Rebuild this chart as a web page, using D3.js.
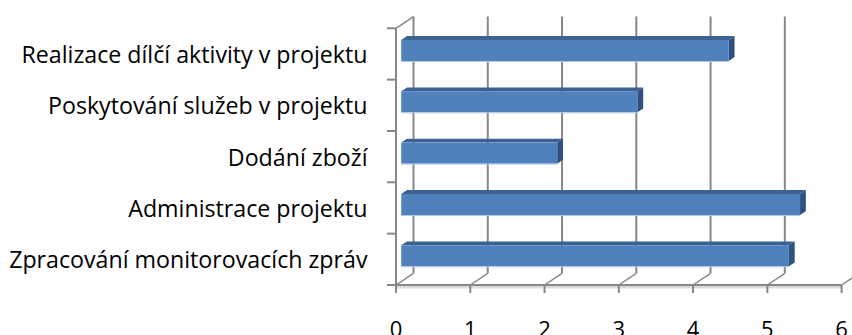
<!DOCTYPE html>
<html>
<head>
<meta charset="utf-8">
<script src="https://cdn.jsdelivr.net/npm/d3@7"></script>
<style>
  html, body { margin: 0; padding: 0; background: #fff; overflow: hidden; }
  svg { display: block; }
  .cat, .tick-label { font-family: "Open Sans", Lato, sans-serif; fill: #000; }
</style>
</head>
<body>
<svg id="chart" width="852" height="335"></svg>
<script>
// Activity categories, listed top to bottom
const categories = [
  "Realizace dílčí aktivity v projektu",
  "Poskytování služeb v projektu",
  "Dodání zboží",
  "Administrace projektu",
  "Zpracování monitorovacích zpráv"
];
// Average value for each activity
const values = [4.41, 3.18, 2.10, 5.37, 5.22];
// Value axis ticks
const xTicks = [0, 1, 2, 3, 4, 5, 6];

const svg = d3.select("#chart");

// Front plane of the 3-D box
const x = d3.scaleLinear().domain([0, 6]).range([396, 841.6]);
const y = d3.scaleBand().domain(categories).range([28.3, 285]).padding(0);
const bw = y.bandwidth();

// Oblique depth offset of the full box (back wall relative to front)
const DX = 17.5, DY = -11.7;
// Depth range occupied by the bars
const f1 = 0.30, f2 = 0.63;
const barH = bw * 0.41;

const gridColor = "#878787";
const yFloor = y.range()[1];
const yTop = y.range()[0];

// Floor thickness band
svg.append("rect")
  .attr("x", x(0)).attr("y", yFloor + 1)
  .attr("width", x(6) - x(0)).attr("height", 2.5)
  .attr("fill", "#dcdcdc");

// Back-wall gridlines
const grid = svg.append("g");
grid.selectAll("line.v")
  .data(xTicks.filter(d => x(d) + DX <= 852))
  .join("line")
  .attr("x1", d => x(d) + DX).attr("x2", d => x(d) + DX)
  .attr("y1", yTop + DY).attr("y2", yFloor + DY)
  .attr("stroke", gridColor).attr("stroke-width", 2);

// Floor diagonals from the front ticks to the back wall
grid.selectAll("line.d")
  .data(xTicks)
  .join("line")
  .attr("x1", d => x(d)).attr("y1", yFloor)
  .attr("x2", d => x(d) + DX).attr("y2", yFloor + DY)
  .attr("stroke", gridColor).attr("stroke-width", 1.5);

// Left wall: vertical edge and top diagonal
grid.append("line")
  .attr("x1", x(0)).attr("x2", x(0))
  .attr("y1", yTop).attr("y2", yFloor)
  .attr("stroke", gridColor).attr("stroke-width", 2);
grid.append("line")
  .attr("x1", x(0)).attr("y1", yTop)
  .attr("x2", x(0) + DX).attr("y2", yTop + DY)
  .attr("stroke", gridColor).attr("stroke-width", 1.5);

// Category tick marks on the left wall
const catBounds = categories.map(c => y(c)).concat([yFloor]);
grid.selectAll("line.ct")
  .data(catBounds)
  .join("line")
  .attr("x1", x(0) - 9).attr("x2", x(0))
  .attr("y1", d => d).attr("y2", d => d)
  .attr("stroke", gridColor).attr("stroke-width", 2);

// Bars drawn as oblique boxes
const bars = svg.append("g")
  .selectAll("g.bar")
  .data(categories.map((c, i) => ({ c, v: values[i] })))
  .join("g");

const ddx = DX * (f2 - f1), ddy = DY * (f2 - f1);

bars.each(function (d) {
  const g = d3.select(this);
  const x0 = x(0) + DX * f1;
  const x1 = x(d.v) + DX * f1;
  const yc = y(d.c) + bw / 2 + DY * f1;
  const yt = yc - barH / 2, yb = yc + barH / 2;

  // top face
  g.append("path")
    .attr("d", `M${x0},${yt}L${x1},${yt}L${x1 + ddx},${yt + ddy}L${x0 + ddx},${yt + ddy}Z`)
    .attr("fill", "#3b6292");
  // end face
  g.append("path")
    .attr("d", `M${x1},${yt}L${x1 + ddx},${yt + ddy}L${x1 + ddx},${yb + ddy}L${x1},${yb}Z`)
    .attr("fill", "#2f5180");
  // front face
  g.append("rect")
    .attr("x", x0).attr("y", yt)
    .attr("width", x1 - x0).attr("height", barH)
    .attr("fill", "#4f81bd");
  // light lower edge
  g.append("line")
    .attr("x1", x0).attr("x2", x1)
    .attr("y1", yb + 0.5).attr("y2", yb + 0.5)
    .attr("stroke", "#b5c8e2").attr("stroke-width", 1);
});

// Front value-axis line and ticks
svg.append("line")
  .attr("x1", x(0)).attr("x2", x(6))
  .attr("y1", yFloor).attr("y2", yFloor)
  .attr("stroke", gridColor).attr("stroke-width", 2);
svg.append("g").selectAll("line")
  .data(xTicks)
  .join("line")
  .attr("x1", d => x(d)).attr("x2", d => x(d))
  .attr("y1", yFloor).attr("y2", yFloor + 8)
  .attr("stroke", gridColor).attr("stroke-width", 2);

// Value tick labels (partly below the bottom edge)
svg.append("g").selectAll("text")
  .data(xTicks)
  .join("text")
  .attr("class", "tick-label")
  .attr("x", d => x(d))
  .attr("y", 337)
  .attr("text-anchor", "middle")
  .attr("font-size", 22)
  .text(d => d);

// Category labels
svg.append("g").selectAll("text")
  .data(categories)
  .join("text")
  .attr("class", "cat")
  .attr("x", 367.5)
  .attr("y", d => y(d) + bw / 2 + 9)
  .attr("text-anchor", "end")
  .attr("font-size", 23.2)
  .text(d => d);
</script>
</body>
</html>
